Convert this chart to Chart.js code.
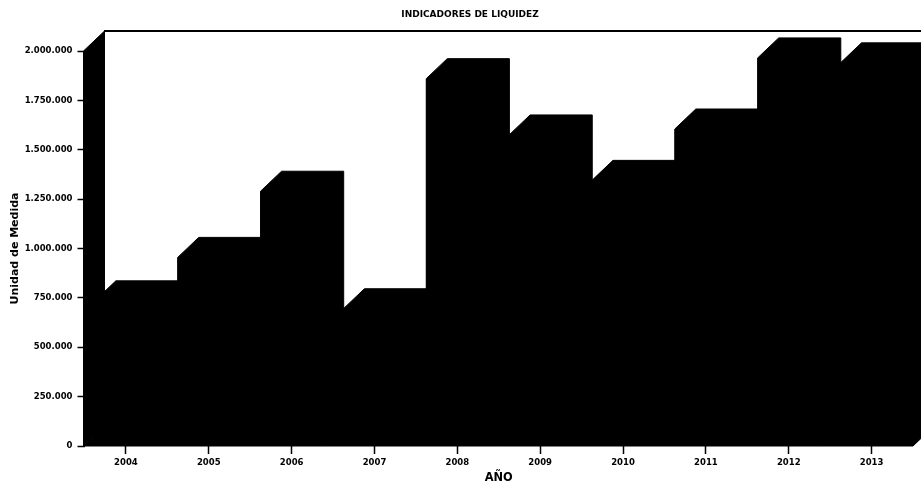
<!DOCTYPE html>
<html>
<head>
<meta charset="utf-8">
<title>Indicadores de Liquidez</title>
<script src="https://cdn.jsdelivr.net/npm/chart.js@4"></script>
<style>
  html, body { margin: 0; padding: 0; background: #fff; }
  canvas { display: block; }
</style>
</head>
<body>
<canvas id="chart" width="921" height="483"></canvas>
<script>
const years = ['2004','2005','2006','2007','2008','2009','2010','2011','2012','2013'];
const liquidez = [735000, 955000, 1290000, 695000, 1860000, 1575000, 1345000, 1605000, 1965000, 1940000];

const DEPTH_X = 21;
const DEPTH_Y = 20;
const FONT = '"DejaVu Sans", sans-serif';

// el trazo tapa las costuras del antialias entre caras negras
function poly(ctx, pts){
  ctx.beginPath();
  pts.forEach((p, i) => i ? ctx.lineTo(p[0], p[1]) : ctx.moveTo(p[0], p[1]));
  ctx.closePath();
  ctx.fill();
  ctx.stroke();
}

// caja 3D: pared izquierda, suelo, borde de fondo y silueta de cada barra
const box3d = {
  id: 'box3d',
  afterLayout(chart){
    // el titulo del original no esta centrado sobre el area del grafico
    chart.titleBlock.left = 19;
    chart.titleBlock.right = 921;
  },
  afterDatasetsDraw(chart){
    const ctx = chart.ctx;
    const a = chart.chartArea;
    ctx.save();
    ctx.fillStyle = '#000';
    ctx.strokeStyle = '#000';
    ctx.lineWidth = 1;
    poly(ctx, [[a.left - 1, a.bottom], [a.left - 1, a.top], [a.left + DEPTH_X - 1, a.top - DEPTH_Y], [a.left + DEPTH_X - 1, a.bottom - DEPTH_Y]]);
    poly(ctx, [[a.left - 1, a.bottom], [a.left + DEPTH_X, a.bottom - DEPTH_Y], [a.right + DEPTH_X, a.bottom - DEPTH_Y], [a.right, a.bottom]]);
    ctx.fillRect(a.left + DEPTH_X - 1.5, a.top - DEPTH_Y - 1, a.right - a.left + DEPTH_X, 2);
    chart.getDatasetMeta(0).data.forEach(bar => {
      const l = bar.x - bar.width / 2;
      const r = bar.x + bar.width / 2;
      poly(ctx, [
        [l, bar.base], [l, bar.y],
        [l + DEPTH_X, bar.y - DEPTH_Y], [r + DEPTH_X, bar.y - DEPTH_Y],
        [r + DEPTH_X, bar.base - DEPTH_Y], [r, bar.base]
      ]);
    });
    ctx.restore();
  }
};

const chart = new Chart(document.getElementById('chart').getContext('2d'), {
  type: 'bar',
  data: {
    labels: years,
    datasets: [{
      label: 'Unidad de Medida',
      data: liquidez,
      backgroundColor: '#000',
      borderWidth: 0,
      barPercentage: 0.75,
      categoryPercentage: 1
    }]
  },
  plugins: [box3d],
  options: {
    responsive: false,
    animation: false,
    layout: { padding: { left: 0, right: 8, top: 0, bottom: 0 } },
    plugins: {
      legend: { display: false },
      tooltip: { enabled: false },
      title: {
        display: true,
        text: 'INDICADORES DE LIQUIDEZ',
        color: '#000',
        font: { family: FONT, size: 9, weight: 'bold' },
        padding: { top: 9, bottom: 31.2 }
      }
    },
    scales: {
      x: {
        afterFit(scale){ scale.height = 37; },
        grid: { offset: false, drawOnChartArea: false, color: '#000', tickLength: 8, tickWidth: 1.5 },
        border: { display: false },
        ticks: { color: '#000', padding: 4, maxRotation: 0, font: { family: FONT, size: 8.5, weight: 'bold' } },
        title: {
          display: true,
          text: 'AÑO',
          color: '#000',
          padding: { top: 0, bottom: -1.5 },
          font: { family: FONT, size: 11.4, weight: 'bold' }
        }
      },
      y: {
        min: 0,
        max: 2000000,
        afterFit(scale){ scale.width = 84.5; },
        grid: { drawOnChartArea: false, color: '#000', tickLength: 7, tickWidth: 1.5 },
        border: { display: false },
        ticks: {
          stepSize: 250000,
          color: '#000',
          padding: 5,
          font: { family: FONT, size: 8.5, weight: 'bold' },
          callback: v => String(v).replace(/\B(?=(\d{3})+$)/g, '.')
        },
        title: {
          display: true,
          text: 'Unidad de Medida',
          color: '#000',
          padding: { top: 9, bottom: 0 },
          font: { family: FONT, size: 11, weight: 'bold' }
        }
      }
    }
  }
});
</script>
</body>
</html>
